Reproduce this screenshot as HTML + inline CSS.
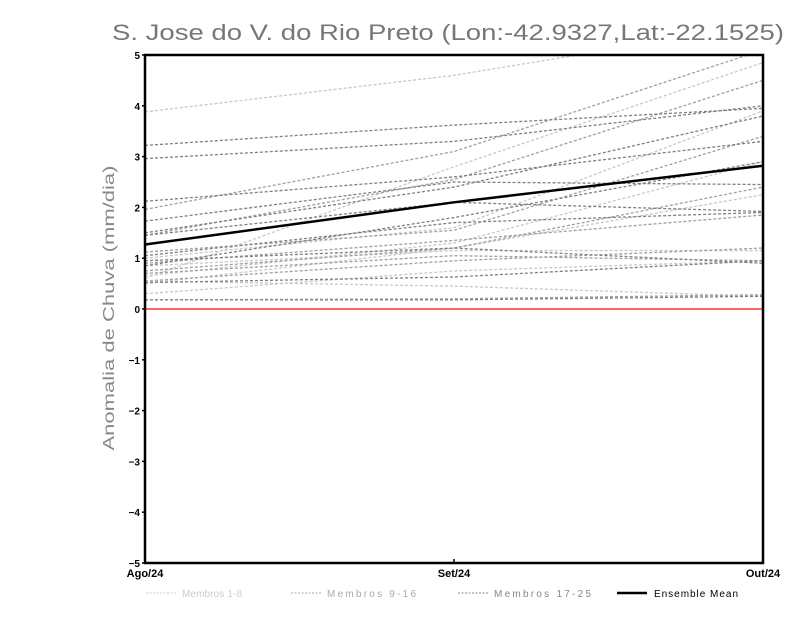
<!DOCTYPE html>
<html><head><meta charset="utf-8"><style>
body{margin:0;background:#fff;}
svg{display:block;font-family:"Liberation Sans",sans-serif;}
</style></head><body>
<svg id="chart" width="800" height="618">
<text x="112" y="40" font-size="22" fill="#777" textLength="672" lengthAdjust="spacingAndGlyphs">S. Jose do V. do Rio Preto (Lon:-42.9327,Lat:-22.1525)</text>
<text transform="translate(114,308) rotate(-90)" text-anchor="middle" font-size="16" fill="#888" textLength="285" lengthAdjust="spacingAndGlyphs">Anomalia de Chuva (mm/dia)</text>
<g id="marks"></g>
<g id="axes"></g>
<g id="legend" font-size="10">
<line x1="146" y1="593" x2="177" y2="593" stroke="#ccc" stroke-dasharray="2,1.5"/>
<text x="182" y="597" fill="#ccc" textLength="60">Membros 1-8</text>
<line x1="291" y1="593" x2="321" y2="593" stroke="#aaa" stroke-dasharray="2,1.5"/>
<text x="327" y="597" fill="#aaa" textLength="89">Membros 9-16</text>
<line x1="458" y1="593" x2="488" y2="593" stroke="#888" stroke-dasharray="2,1.5"/>
<text x="494" y="597" fill="#888" textLength="97">Membros 17-25</text>
<line x1="617" y1="593" x2="647" y2="593" stroke="#000" stroke-width="2.5"/>
<text x="654" y="597" fill="#000" textLength="84">Ensemble Mean</text>
</g>
</svg>
<script>
const categories = ["Ago/24","Set/24","Out/24"];
const yTicks = [-5,-4,-3,-2,-1,0,1,2,3,4,5];
const members1to8 = [[3.88,4.6,5.6],[0.3,0.75,0.95],[0.5,1.2,2.25],[0.65,1.3,2.9],[0.6,2.8,4.85],[0.55,0.45,0.25],[0.85,1.15,1.15],[1.0,1.6,3.9]];
const members9to16 = [[1.45,2.55,4.5],[0.9,1.35,1.85],[0.75,1.2,2.4],[1.12,1.55,3.4],[0.55,0.95,1.2],[0.7,1.05,0.95],[0.18,0.2,0.28],[1.96,3.1,5.1]];
const members17to25 = [[3.22,3.62,3.95],[2.96,3.3,4.0],[2.12,2.6,3.3],[1.73,2.5,2.45],[1.5,2.4,3.8],[1.05,1.7,1.9],[0.95,1.2,0.9],[0.52,0.63,0.95],[0.18,0.18,0.25],[0.85,1.8,2.9],[1.45,2.1,1.92]];
const ensembleMean = [1.27,2.1,2.82];

const X0=145,X1=763,Y0=563,Y1=55,YMIN=-5,YMAX=5;
const xs=i=>X0+(X1-X0)*i/(categories.length-1);
const ys=v=>Y0-(v-YMIN)/(YMAX-YMIN)*(Y0-Y1);
const NS="http://www.w3.org/2000/svg";
const marks=document.getElementById('marks');
const axes=document.getElementById('axes');
const clipId='plotclip';
const defs=document.createElementNS(NS,'defs');
defs.innerHTML=`<clipPath id="${clipId}"><rect x="${X0}" y="${Y1}" width="${X1-X0}" height="${Y0-Y1}"/></clipPath>`;
document.getElementById('chart').prepend(defs);
marks.setAttribute('clip-path',`url(#${clipId})`);
function line(vals,color,width,dash,name){
  const p=document.createElementNS(NS,'polyline');
  p.setAttribute('points',vals.map((v,i)=>xs(i)+','+ys(v)).join(' '));
  p.setAttribute('fill','none');p.setAttribute('stroke',color);p.setAttribute('stroke-width',width);
  if(dash)p.setAttribute('stroke-dasharray',dash);
  
  
  marks.appendChild(p);
}
const zl=document.createElementNS(NS,'line');
zl.setAttribute('x1',X0);zl.setAttribute('x2',X1);zl.setAttribute('y1',ys(0));zl.setAttribute('y2',ys(0));
zl.setAttribute('stroke','#f33');zl.setAttribute('stroke-width','1.5');


marks.appendChild(zl);
members1to8.forEach((m,i)=>line(m,'#c8c8c8',1.3,'3,2','member-'+(i+1)));
members9to16.forEach((m,i)=>line(m,'#a0a0a0',1.3,'3,2','member-'+(i+9)));
members17to25.forEach((m,i)=>line(m,'#808080',1.3,'3,2','member-'+(i+17)));
line(ensembleMean,'#000',2.5,null,'ensemble-mean-line');
const fr=document.createElementNS(NS,'rect');
fr.setAttribute('x',X0);fr.setAttribute('y',Y1);fr.setAttribute('width',X1-X0);fr.setAttribute('height',Y0-Y1);
fr.setAttribute('fill','none');fr.setAttribute('stroke','#000');fr.setAttribute('stroke-width','2.5');


axes.appendChild(fr);
yTicks.forEach(t=>{
  const tx=document.createElementNS(NS,'text');
  tx.setAttribute('x',X0-5);tx.setAttribute('y',ys(t)+4);tx.setAttribute('text-anchor','end');
  tx.setAttribute('font-size','10');tx.setAttribute('font-weight','bold');
  tx.textContent=t<0?'\u2212'+(-t):String(t);
  
  
  axes.appendChild(tx);
  const tk=document.createElementNS(NS,'line');
  tk.setAttribute('x1',X0-3);tk.setAttribute('x2',X0);tk.setAttribute('y1',ys(t));tk.setAttribute('y2',ys(t));
  tk.setAttribute('stroke','#000');tk.setAttribute('stroke-width','1.5');
  
  
  axes.appendChild(tk);
});
categories.forEach((c,i)=>{
  const tx=document.createElementNS(NS,'text');
  tx.setAttribute('x',xs(i));tx.setAttribute('y',577);tx.setAttribute('text-anchor','middle');
  tx.setAttribute('font-size','11');tx.setAttribute('font-weight','bold');
  tx.textContent=c;
  
  
  axes.appendChild(tx);
  const tk=document.createElementNS(NS,'line');
  tk.setAttribute('x1',xs(i));tk.setAttribute('x2',xs(i));tk.setAttribute('y1',Y0-4);tk.setAttribute('y2',Y0);
  tk.setAttribute('stroke','#000');tk.setAttribute('stroke-width','1.5');
  
  
  axes.appendChild(tk);
});
</script>
</body></html>
